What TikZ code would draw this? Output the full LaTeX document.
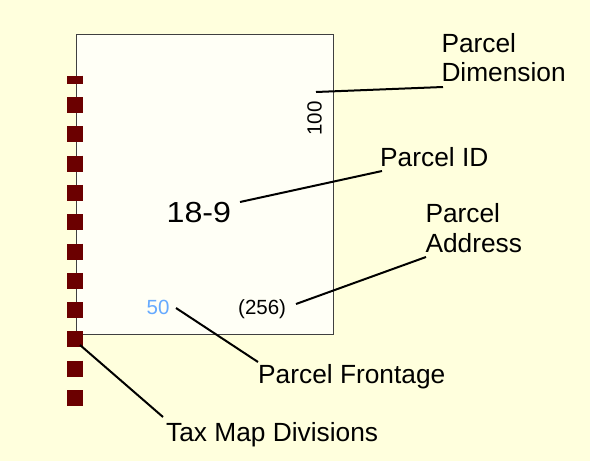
\documentclass[tikz,border=0pt]{standalone}
\usepackage{fontspec}
\setmainfont{Liberation Sans}
\definecolor{bgyellow}{HTML}{FFFFDD}
\definecolor{parcelfill}{HTML}{FFFFF6}
\definecolor{divred}{HTML}{6B0000}
\definecolor{frontblue}{HTML}{66AAFF}
\begin{document}
\begin{tikzpicture}[x=1pt,y=-1pt,
  lbl/.style={inner sep=0pt,anchor=base west,font=\fontsize{26.3}{29.5}\selectfont,align=left},
  small/.style={inner sep=0pt,anchor=base west,font=\fontsize{20.5}{24}\selectfont},
  leader/.style={draw=black,line width=2pt}]
\fill[bgyellow] (0,0) rectangle (590,461);
\useasboundingbox (0,0) rectangle (590,461);
% parcel
\node[draw=black!75,line width=1.4pt,fill=parcelfill,inner sep=0pt,anchor=north west,
      minimum width=257pt,minimum height=300pt] (parcel) at (76,34) {};
% tax map divisions
\coordinate (divtop) at (75,75.7);
\coordinate (divbot) at (75,406);
\draw[divred,line width=16pt,dash pattern=on 16pt off 13.3pt,dash phase=8pt] (divtop) -- (divbot);
% texts
\node[lbl] (dim) at (441.3,81.5) {Parcel\\Dimension};
\node[lbl] (pid) at (380,166) {Parcel ID};
\node[lbl] (addr) at (425.3,252) {Parcel\\Address};
\node[lbl] (front) at (258,383.3) {Parcel Frontage};
\node[lbl] (tax) at (166,441.7) {Tax Map Divisions};
\node[inner sep=0pt,anchor=base west,font=\fontsize{29}{34}\selectfont] (id) at (166.5,222.8) {\scalebox{1.11}[1]{18-9}};
\node[small,text=frontblue] (fifty) at (146.5,314) {50};
\node[small] (num) at (238,314.3) {(256)};
\node[inner sep=0pt,rotate=90,font=\fontsize{20.5}{24}\selectfont] (hundred) at (314.5,118.4) {100};
% leader end points
\coordinate (dimA) at (316,92);   \coordinate (dimB) at (443,87);
\coordinate (pidA) at (240,202);  \coordinate (pidB) at (382,171);
\coordinate (addA) at (296,304);  \coordinate (addB) at (426,257);
\coordinate (frA) at (176,308);   \coordinate (frB) at (258,362);
\coordinate (taxA) at (80,345);   \coordinate (taxB) at (163,417);
\draw[leader] (dimA) -- (dimB);
\draw[leader] (pidA) -- (pidB);
\draw[leader] (addA) -- (addB);
\draw[leader] (frA) -- (frB);
\draw[leader] (taxA) -- (taxB);
\end{tikzpicture}
\end{document}
